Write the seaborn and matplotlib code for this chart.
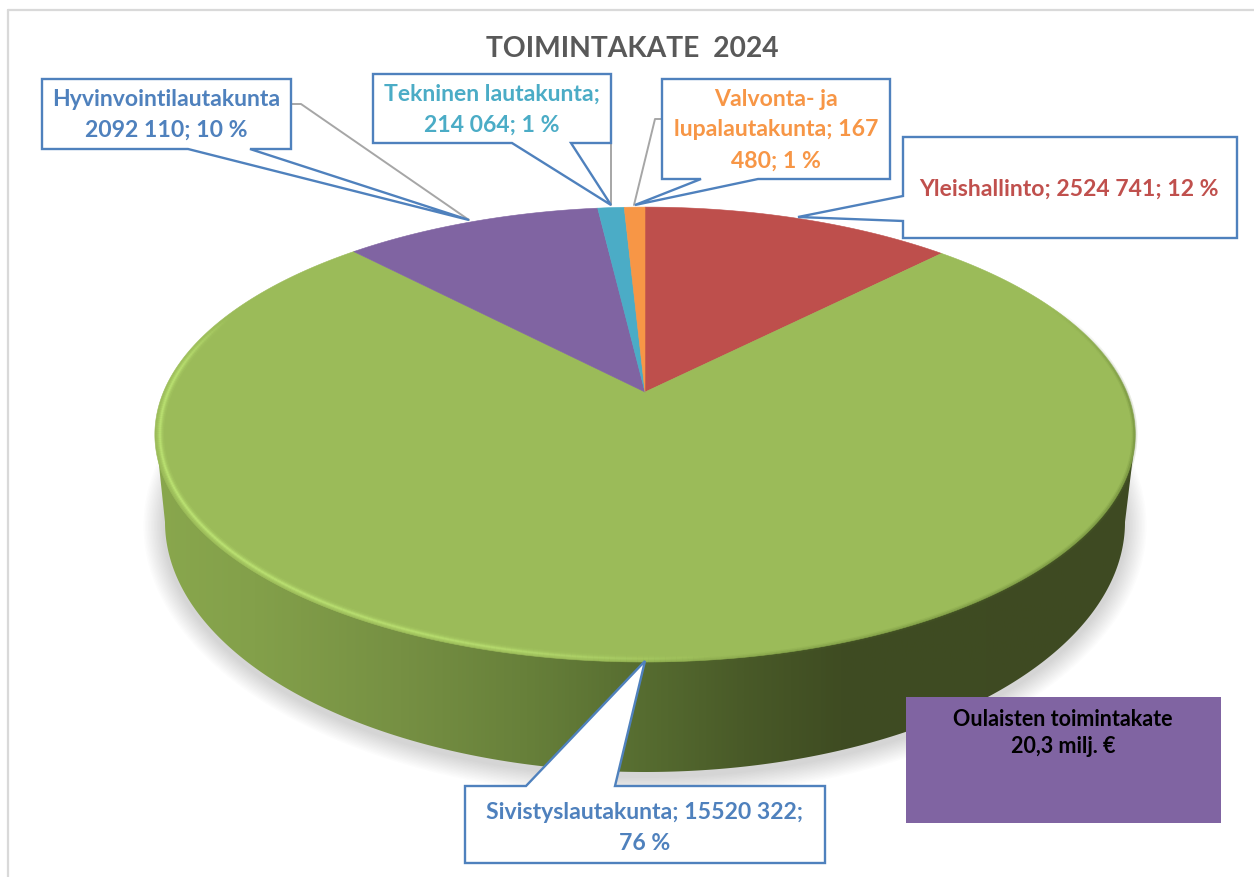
import numpy as np
import matplotlib
matplotlib.use("Agg")
import matplotlib.pyplot as plt
from matplotlib.collections import LineCollection
from matplotlib.colors import LinearSegmentedColormap, to_rgba
from matplotlib.patches import Polygon, Rectangle
import seaborn as sns

categories = ["Yleishallinto", "Sivistyslautakunta", "Hyvinvointilautakunta",
              "Tekninen lautakunta", "Valvonta- ja lupalautakunta"]
values = [2524741, 15520322, 2092110, 214064, 167480]
slice_colors = ["#be4f4c", "#9bbb59", "#8064a2", "#4bacc6", "#f79646"]
label_colors = ["#c0504d", "#4f81bd", "#4f81bd", "#4bacc6", "#f79646"]
label_texts = ["Yleishallinto; 2524 741; 12 %",
               "Sivistyslautakunta; 15520 322;\n76 %",
               "Hyvinvointilautakunta\n2092 110; 10 %",
               "Tekninen lautakunta;\n214 064; 1 %",
               "Valvonta- ja\nlupalautakunta; 167\n480; 1 %"]
title_text = "TOIMINTAKATE  2024"
note_text = "Oulaisten toimintakate\n20,3 milj. €"

sns.set_theme(style="white")
plt.rcParams["font.family"] = ["Lato", "DejaVu Sans"]
plt.rcParams["font.weight"] = "bold"
palette = sns.color_palette(slice_colors)

fig = plt.figure(figsize=(12.54, 8.77), dpi=100, facecolor="white")
ax = fig.add_axes([0, 0, 1, 1])
W, H = 1254, 877

# perspective projection of the unit pie disc on to the page
CX, CY, A, B, K = 645, 392, 481.5, 219.5, 0.187


def project(theta_deg, r=1.0):
    t = np.radians(theta_deg)
    x, y = r * np.sin(t), r * np.cos(t)
    w = 1 + K * y
    return CX + A * x / w, CY - B * y / w


# soft shadow
for d in np.arange(2, 22, 1.5):
    t = np.linspace(0, 2 * np.pi, 300)
    ax.fill(645 + (480 + d) * np.cos(t), 526 + (250 + d) * np.sin(t),
            color="#555555", alpha=0.016, lw=0, zorder=1)

# side wall
t = np.linspace(np.pi, 0, 300)
wall_x = np.r_[156, 645 + 480 * np.cos(t), 1135]
wall_y = np.r_[437, 522 + 250 * np.sin(t), 440]
wall_clip = Polygon(np.c_[wall_x, wall_y], closed=True, transform=ax.transData)
stops = [(0.0, "#89a74d"), (0.10, "#83a04a"), (0.25, "#769043"), (0.38, "#67803a"),
         (0.50, "#566c30"), (0.60, "#495a28"), (0.70, "#3f4c22"), (1.0, "#3e4a22")]
wall_cmap = LinearSegmentedColormap.from_list("wall", stops)
im = ax.imshow(np.linspace(0, 1, 512)[None, :], cmap=wall_cmap, aspect="auto",
               extent=(156, 1135, 775, 437), zorder=2)
im.set_clip_path(wall_clip)

# top face
shares = np.array(values, dtype=float) / np.sum(values)
edges = np.r_[0, np.cumsum(shares)] * 360
for a0, a1, col in zip(edges[:-1], edges[1:], palette):
    th = np.linspace(a0, a1, max(int(a1 - a0) * 2, 6))
    px, py = project(th)
    ax.fill(np.r_[CX, px], np.r_[CY, py], color=col, lw=0.4, ec=col, zorder=3)


# bevel on the rim of the big slice
def rim(theta, r, rgb, alpha, lw):
    px, py = project(theta, r)
    pts = np.c_[px, py]
    segs = np.stack([pts[:-1], pts[1:]], axis=1)
    rgba = np.tile(to_rgba(rgb), (len(segs), 1))
    rgba[:, 3] = alpha[:-1]
    ax.add_collection(LineCollection(segs, colors=rgba, linewidths=lw, zorder=4,
                                     capstyle="butt"))


th = np.linspace(edges[1], edges[2], 500)
glow = np.interp(th, [172, 195, 235, 275, 292], [0, 0.7, 1, 0.9, 0])
for lw, al in [(6, 0.12), (4, 0.22), (2.5, 0.35), (1.2, 0.55)]:
    rim(th, 0.99, "#c2ea78", al * glow, lw)
dark = np.interp(th, [65, 90, 115, 165, 185], [0, 0.5, 0.5, 0.3, 0])
for lw, al in [(4, 0.3), (2, 0.6)]:
    rim(th, 0.999, "#5f7a30", al * dark, lw)

# callouts
edge_blue = "#4f81bd"
callouts = [
    [(903, 137), (1237, 137), (1237, 238), (903, 238), (903, 221), (798, 217), (903, 196)],
    [(465, 786), (526, 786), (645, 661), (615, 786), (825, 786), (825, 863), (465, 863)],
    [(42, 79), (291, 79), (291, 149), (250, 149), (469, 220), (188, 149), (42, 149)],
    [(373, 74), (611, 74), (611, 143), (571, 143), (611, 205), (512, 143), (373, 143)],
    [(662, 79), (890, 79), (890, 179), (758, 179), (635, 205), (701, 179), (662, 179)],
]
leaders = [[(291, 104), (301, 104), (469, 220)],
           [(611, 143), (611, 205)],
           [(662, 119), (655, 119), (634, 205)]]
for ln in leaders:
    xs, ys = zip(*ln)
    ax.plot(xs, ys, color="#a6a6a6", lw=1.4, zorder=5)
for poly in callouts:
    ax.add_patch(Polygon(poly, closed=True, fc="white", ec=edge_blue, lw=1.7, zorder=6))

label_xy = [(1069, 189), (645, 828), (166, 115), (492, 110), (776, 130)]
for txt, col, (lx, ly) in zip(label_texts, label_colors, label_xy):
    ax.text(lx, ly, txt, color=col, fontsize=16.6, fontweight="bold", ha="center",
            va="center", linespacing=1.58, zorder=7)

ax.text(632, 49, title_text, color="#595959", fontsize=20.3, fontweight="bold",
        ha="center", va="center", zorder=7)

ax.add_patch(Rectangle((906, 697), 315, 126, fc="#8064a2", ec="none", zorder=6))
ax.text(1063, 733, note_text, color="black", fontsize=15.5, fontweight="bold",
        ha="center", va="center", linespacing=1.3, zorder=7)

# frame of the chart area
ax.plot([7.5, 7.5], [H, 10], color="#d9d9d9", lw=1.6, zorder=0)
ax.plot([7.5, W], [10, 10], color="#d9d9d9", lw=1.6, zorder=0)

ax.set_xlim(0, W)
ax.set_ylim(H, 0)
ax.axis("off")
fig.savefig("out.png", dpi=100, facecolor="white")
